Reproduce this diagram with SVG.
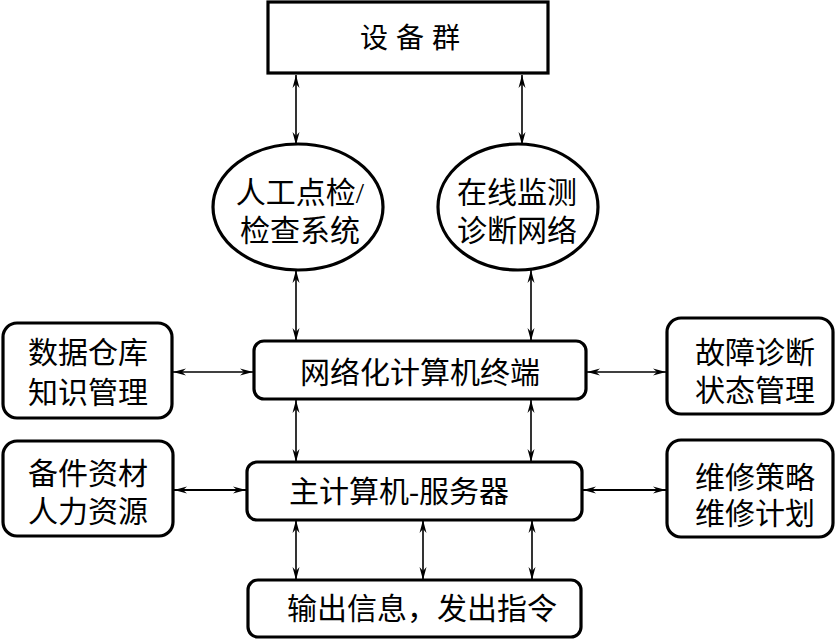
<svg xmlns="http://www.w3.org/2000/svg" width="837" height="640" viewBox="0 0 837 640">
<defs>
<marker id="ah" markerUnits="userSpaceOnUse" markerWidth="14" markerHeight="9" refX="13" refY="4" orient="auto-start-reverse">
<path d="M0,0.5 L13,4 L0,7.5 L4,4 z" fill="#000"/>
</marker>
</defs>
<style>
.box{fill:#fff;stroke:#000;stroke-width:3.2}
.t{font-family:"Liberation Serif","Noto Sans CJK SC",serif;font-size:30px;fill:#000;text-anchor:middle;dominant-baseline:central}
.c{fill:none;stroke:#000;stroke-width:1.6;marker-start:url(#ah);marker-end:url(#ah)}
</style>
<g id="connectors">
<line class="c" x1="296" y1="75" x2="296" y2="145"/>
<line class="c" x1="522" y1="75" x2="522" y2="145"/>
<line class="c" x1="296" y1="270" x2="296" y2="341"/>
<line class="c" x1="531" y1="270" x2="531" y2="341"/>
<line class="c" x1="296" y1="400" x2="296" y2="462"/>
<line class="c" x1="531" y1="400" x2="531" y2="462"/>
<line class="c" x1="296" y1="520" x2="296" y2="580"/>
<line class="c" x1="423" y1="520" x2="423" y2="580"/>
<line class="c" x1="532" y1="520" x2="532" y2="580"/>
<line class="c" x1="173" y1="372" x2="253" y2="372"/>
<line class="c" x1="587" y1="372" x2="666" y2="372"/>
<line class="c" x1="174" y1="490" x2="246" y2="490" style="stroke-width:2.2"/>
<line class="c" x1="583" y1="490" x2="666" y2="490" style="stroke-width:2.2"/>
</g>
<g id="n-equipment">
<rect class="box" x="268" y="2" width="280" height="71"/>
<text class="t" x="414" y="38" font-size="28" style="font-size:28px;letter-spacing:8px">设备群</text>
</g>
<g id="n-manual">
<ellipse class="box" cx="298" cy="207" rx="85" ry="63"/>
<text class="t" x="300" y="192">人工点检/</text>
<text class="t" x="300" y="230">检查系统</text>
</g>
<g id="n-online">
<ellipse class="box" cx="518" cy="207" rx="80" ry="63"/>
<text class="t" x="517" y="192">在线监测</text>
<text class="t" x="517" y="230">诊断网络</text>
</g>
<g id="n-terminal">
<rect class="box" x="254" y="341" width="332" height="58" rx="10"/>
<text class="t" x="420" y="372">网络化计算机终端</text>
</g>
<g id="n-data">
<rect class="box" x="3" y="323" width="169" height="95" rx="14"/>
<text class="t" x="88" y="352">数据仓库</text>
<text class="t" x="88" y="392">知识管理</text>
</g>
<g id="n-fault">
<rect class="box" x="667" y="318" width="166" height="96" rx="14"/>
<text class="t" x="755" y="352">故障诊断</text>
<text class="t" x="755" y="390">状态管理</text>
</g>
<g id="n-server">
<rect class="box" x="247" y="462" width="335" height="58" rx="10"/>
<text class="t" x="399" y="491">主计算机-服务器</text>
</g>
<g id="n-spare">
<rect class="box" x="3" y="441" width="170" height="95" rx="14"/>
<text class="t" x="88" y="473">备件资材</text>
<text class="t" x="88" y="511">人力资源</text>
</g>
<g id="n-maint">
<rect class="box" x="667" y="440" width="166" height="97" rx="14"/>
<text class="t" x="755" y="477">维修策略</text>
<text class="t" x="755" y="513">维修计划</text>
</g>
<g id="n-output">
<rect class="box" x="248" y="580" width="333" height="57" rx="10"/>
<text class="t" x="422" y="608">输出信息，发出指令</text>
</g>
</svg>
